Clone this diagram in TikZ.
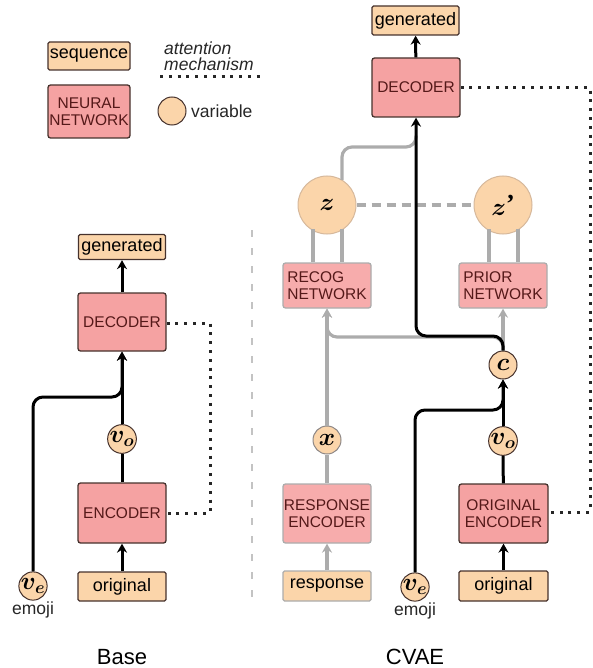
\documentclass[tikz,border=0pt]{standalone}
\usepackage{fontspec}
\setmainfont{Liberation Sans}
\newfontfamily\quotefont{Liberation Serif}
\usepackage{amsmath,bm}
\usetikzlibrary{arrows.meta,calc}
\definecolor{peach}{RGB}{251,213,170}
\definecolor{nnpink}{RGB}{245,162,162}
\definecolor{lpink}{RGB}{247,172,172}
\definecolor{edgedark}{RGB}{70,50,45}
\definecolor{lgray}{RGB}{172,172,172}
\definecolor{sepgray}{RGB}{195,195,195}
\definecolor{nntext}{RGB}{85,25,25}
\definecolor{zedge}{RGB}{214,184,155}
\begin{document}
\begin{tikzpicture}[x=1pt,y=-1pt,
  seqbox/.style={draw=edgedark, fill=peach, line width=1.3pt, rounded corners=1.5pt, inner sep=0pt, font=\fontsize{18}{19}\selectfont},
  seqlight/.style={seqbox, draw=lgray},
  nnbox/.style={draw=edgedark, fill=nnpink, line width=1.3pt, rounded corners=2.5pt, inner sep=0pt, text=nntext, align=center, font=\fontsize{15.5}{16.5}\selectfont},
  nnlight/.style={nnbox, draw=lgray, fill=lpink},
  var/.style={circle, draw=edgedark, fill=peach, line width=1pt, minimum size=28pt, inner sep=0pt, font=\fontsize{23}{24}\selectfont},
  varlight/.style={var, draw=lgray!70!edgedark},
  bigvar/.style={circle, draw=zedge, fill=peach, line width=1pt, minimum size=58pt, inner sep=0pt, font=\fontsize{29}{30}\selectfont},
  blk/.style={line width=3pt, draw=black, rounded corners=10pt},
  gry/.style={line width=3.2pt, draw=lgray, rounded corners=10pt},
  arr/.style={-{Stealth[length=9pt,width=10pt]}},
  attn/.style={line width=3pt, dash pattern=on 3pt off 5.8pt, draw=black!85},
  lbl/.style={inner sep=0pt, font=\fontsize{17.5}{18}\selectfont, text=black!85},
  title/.style={inner sep=0pt, font=\fontsize{22}{24}\selectfont}]
\useasboundingbox (0,0) rectangle (592,668);

% ---------- legend ----------
\node[seqbox, minimum width=82pt, minimum height=28pt] (lseq) at (89,56) {sequence};
\node[nnbox, minimum width=82pt, minimum height=53pt] (lnn) at (89,111.5) {NEURAL\\NETWORK};
\node[var] (lvar) at (172,111) {};
\node[lbl, anchor=west] (lvartxt) at (191,111) {variable};
\node[lbl, anchor=west, align=left, font=\fontsize{17.5}{16.5}\selectfont\itshape] (lattn) at (164,56) {attention\\mechanism};
\coordinate (la1) at (160,77);
\coordinate (la2) at (264,77);
\draw[attn] (la1) -- (la2);

% ---------- Base ----------
\node[seqbox, minimum width=87pt, minimum height=25pt] (bgen) at (122,247) {generated};
\node[nnbox, minimum width=88pt, minimum height=58pt] (bdec) at (122,322) {DECODER};
\node[var] (bvo) at (122,439) {$\bm{v_o}$};
\node[nnbox, minimum width=88pt, minimum height=60pt] (benc) at (122,513) {ENCODER};
\node[seqbox, minimum width=88pt, minimum height=29pt] (borig) at (122,586.5) {original};
\node[var] (bve) at (33,586) {$\bm{v_e}$};
\node[lbl, anchor=base] (bemoji) at (33,614) {emoji};
\node[title] (base) at (122,657) {Base};

\coordinate (bturn) at (33,397);
\coordinate (ba1) at (210,323);
\coordinate (ba2) at (210,513);
\draw[attn] (bdec.east |- ba1) -- (ba1) -- (ba2) -- (benc.east |- ba2);
\draw[blk, arr] (borig) -- (benc);
\draw[blk] (benc) -- (bvo);
\draw[blk, arr] (bvo) -- (bdec);
\draw[blk, arr] (bve.north) -- (bturn) -- (bturn -| bdec.south) -- (bdec.south);
\draw[blk, arr] (bdec) -- (bgen);

% ---------- separator ----------
\coordinate (s1) at (252,230);
\coordinate (s2) at (252,606);
\draw[sepgray, line width=1.6pt, dash pattern=on 7pt off 11pt] (s1) -- (s2);

% ---------- CVAE ----------
\node[seqbox, minimum width=87pt, minimum height=29pt] (cgen) at (415.5,20.5) {generated};
\node[nnbox, minimum width=88pt, minimum height=59pt] (cdec) at (416,87.5) {DECODER};
\node[bigvar] (z) at (327,205) {$\bm{z}$};
\node[bigvar] (zp) at (503,205) {$\bm{z}$\raisebox{3pt}{\quotefont\bfseries\fontsize{26}{26}\selectfont ’}};
\node[nnlight, minimum width=88pt, minimum height=45pt, align=left] (recog) at (327,285.5) {RECOG\\NETWORK};
\node[nnlight, minimum width=88pt, minimum height=45pt, align=left] (prior) at (503,285.5) {PRIOR\\NETWORK};
\node[var] (c) at (503,365) {$\bm{c}$};
\node[varlight] (x) at (327,440) {$\bm{x}$};
\node[nnlight, minimum width=88pt, minimum height=59pt] (renc) at (327,513.5) {RESPONSE\\ENCODER};
\node[seqlight, minimum width=88pt, minimum height=30pt] (resp) at (327,586) {response};
\node[var] (cve) at (415,587) {$\bm{v_e}$};
\node[lbl, anchor=base] (cemoji) at (415,615) {emoji};
\node[nnbox, minimum width=89pt, minimum height=59pt] (oenc) at (503.5,513.5) {ORIGINAL\\ENCODER};
\node[seqbox, minimum width=89pt, minimum height=30pt] (corig) at (503.5,586) {original};
\node[var] (cvo) at (503,441) {$\bm{v_o}$};
\node[title] (cvae) at (415,657) {CVAE};

% attention
\coordinate (ca1) at (590,88);
\coordinate (ca2) at (590,512);
\draw[attn] (cdec.east |- ca1) -- (ca1) -- (ca2) -- (oenc.east |- ca2);

% gray connectors
\draw[gry, dash pattern=on 9pt off 6pt] (z) -- (zp);
\foreach \dx in {-14,15} {
  \draw[gry] ($(recog.north)+(\dx,0)$) -- ($(recog.north)+(\dx,-33)$);
  \draw[gry] ($(prior.north)+(\dx,0)$) -- ($(prior.north)+(\dx,-33)$);
}
\coordinate (zj) at (342,147);
\draw[gry] ($(z.center)+(15,-25)$) -- (zj) -- (zj -| cdec.south) -- ($(cdec.south)+(0,18)$);
\draw[gry, arr] (resp) -- (renc);
\draw[gry] (renc) -- (x);
\draw[gry, arr] (x) -- (recog);
\coordinate (cj) at (503,337);
\draw[gry, arr] (c.north) -- (cj) -- (cj -| recog.south) -- (recog.south);
\draw[gry, arr] (c.north) -- (prior.south);

% black connectors
\draw[blk, arr] (corig) -- (oenc);
\draw[blk] (oenc) -- (cvo);
\draw[blk, arr] (cvo) -- (c);
\coordinate (cturn) at (415,410);
\draw[blk, arr] (cve.north) -- (cturn) -- (cturn -| c.south) -- (c.south);
\coordinate (bj) at (503,336);
\draw[blk, arr] (c.north) -- (bj) -- (bj -| cdec.south) -- (cdec.south);
\draw[blk, arr] (cdec) -- (cgen);
\end{tikzpicture}
\end{document}
